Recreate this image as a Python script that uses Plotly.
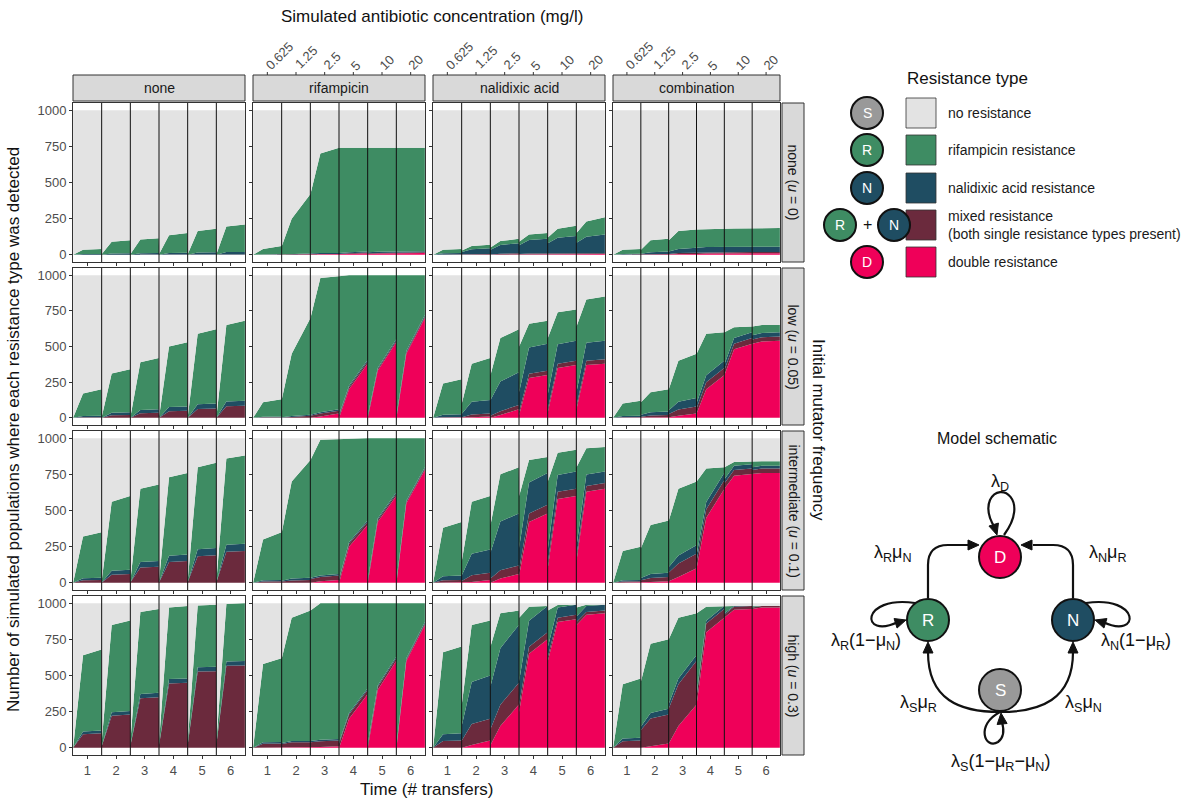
import plotly.graph_objects as go

W, H = 1200, 804

COLUMNS = ["none", "rifampicin", "nalidixic acid", "combination"]
ROWS = ["none (<i>u</i> = 0)", "low (<i>u</i> = 0.05)",
        "intermediate (<i>u</i> = 0.1)", "high (<i>u</i> = 0.3)"]
TRANSFERS = [1, 2, 3, 4, 5, 6]
CONC_LABELS = ["0.625", "1.25", "2.5", "5", "10", "20"]
Y_TICKS = [0, 250, 500, 750, 1000]

# total resistant populations (top of green) per transfer: (start, early, end)
TOTAL_NONE = [
    [(0, 35, 40), (5, 90, 100), (5, 105, 115), (5, 135, 150), (5, 165, 180), (5, 195, 210)],
    [(0, 170, 200), (10, 310, 340), (10, 390, 420), (10, 500, 530), (10, 590, 620), (10, 650, 680)],
    [(0, 320, 350), (20, 560, 600), (20, 650, 680), (20, 730, 760), (20, 800, 830), (20, 860, 880)],
    [(0, 640, 680), (50, 850, 880), (50, 940, 960), (50, 970, 980), (50, 985, 990), (50, 995, 1000)],
]
TOTAL_RIF = [
    [(0, 40, 60), (60, 250, 420), (420, 700, 740), (740, 740, 740), (740, 740, 740), (740, 740, 740)],
    [(0, 110, 130), (130, 450, 700), (700, 980, 990), (990, 1000, 1000), (1000, 1000, 1000), (1000, 1000, 1000)],
    [(0, 300, 350), (350, 700, 850), (850, 990, 995), (995, 1000, 1000), (1000, 1000, 1000), (1000, 1000, 1000)],
    [(0, 580, 620), (620, 900, 950), (950, 1000, 1000), (1000, 1000, 1000), (1000, 1000, 1000), (1000, 1000, 1000)],
]
TOTAL_NAL = [
    [(0, 35, 40), (30, 60, 70), (50, 95, 110), (90, 140, 150), (120, 180, 200), (150, 230, 260)],
    [(0, 240, 270), (100, 380, 420), (300, 560, 620), (500, 660, 680), (560, 740, 760), (640, 830, 850)],
    [(0, 380, 420), (150, 560, 600), (400, 750, 800), (600, 850, 870), (700, 900, 920), (800, 930, 940)],
    [(0, 660, 700), (300, 850, 880), (700, 930, 950), (900, 975, 980), (950, 988, 990), (970, 990, 990)],
]
TOTAL_COMB = [
    [(0, 35, 40), (35, 100, 110), (100, 165, 175), (175, 180, 180), (180, 182, 182), (182, 185, 185)],
    [(0, 100, 120), (110, 180, 200), (200, 400, 450), (450, 590, 600), (600, 635, 640), (640, 650, 650)],
    [(0, 220, 250), (240, 400, 430), (430, 650, 700), (700, 790, 800), (800, 835, 840), (840, 840, 840)],
    [(0, 440, 480), (460, 720, 750), (750, 900, 930), (930, 975, 980), (980, 980, 980), (980, 980, 980)],
]

# double resistance (bottom layer) per transfer: (start, early, end)
PINK_NONE = [
    [(0, 0, 0)] * 6, [(0, 0, 0)] * 6, [(0, 0, 0)] * 6, [(0, 0, 0)] * 6,
]
PINK_RIF = [
    [(0, 0, 0), (0, 0, 0), (0, 0, 0), (0, 5, 10), (5, 8, 10), (8, 10, 12)],
    [(0, 0, 0), (0, 0, 0), (0, 10, 30), (0, 200, 380), (0, 330, 530), (0, 450, 700)],
    [(0, 0, 0), (0, 0, 0), (0, 10, 20), (0, 250, 400), (0, 420, 600), (0, 550, 780)],
    [(0, 0, 0), (0, 0, 0), (0, 5, 10), (0, 200, 370), (0, 400, 600), (0, 600, 850)],
]
PINK_NAL = [
    [(0, 0, 0), (0, 0, 0), (0, 3, 5), (3, 5, 5), (5, 5, 5), (5, 5, 5)],
    [(0, 0, 0), (0, 5, 10), (0, 20, 60), (20, 280, 300), (40, 350, 370), (60, 370, 380)],
    [(0, 0, 0), (0, 5, 20), (0, 30, 60), (50, 420, 480), (100, 580, 600), (150, 630, 650)],
    [(0, 0, 0), (0, 20, 50), (20, 150, 300), (250, 650, 750), (600, 870, 890), (850, 920, 930)],
]
PINK_COMB = [
    [(0, 0, 0), (0, 0, 0), (0, 3, 5), (5, 8, 10), (10, 10, 10), (10, 10, 10)],
    [(0, 0, 0), (0, 3, 5), (5, 15, 30), (30, 200, 300), (300, 480, 520), (520, 535, 540)],
    [(0, 0, 0), (0, 5, 10), (10, 40, 100), (100, 450, 650), (650, 740, 750), (750, 760, 760)],
    [(0, 0, 0), (0, 10, 30), (30, 150, 300), (300, 800, 900), (900, 955, 960), (960, 970, 970)],
]

# mixed and nalidixic-acid layer thickness at the end of each transfer
MAROON_NONE = [[1, 2, 2, 2, 2, 2], [5, 20, 35, 50, 65, 85],
               [20, 60, 110, 150, 190, 220], [100, 230, 350, 450, 530, 570]]
MAROON_RIF = [[2, 3, 5, 5, 5, 5], [5, 10, 20, 15, 10, 10],
              [10, 20, 30, 20, 15, 10], [30, 40, 40, 30, 20, 10]]
MAROON_NAL = [[2, 5, 5, 5, 5, 5], [5, 20, 30, 30, 30, 30],
              [20, 50, 60, 60, 50, 40], [50, 150, 150, 50, 30, 20]]
MAROON_COMB = [[2, 5, 10, 10, 10, 10], [5, 15, 50, 50, 40, 30],
               [10, 30, 100, 60, 40, 30], [50, 200, 300, 60, 20, 10]]
TEAL_NONE = [[5, 8, 10, 12, 15, 18], [10, 20, 25, 30, 35, 35],
             [15, 30, 40, 45, 50, 50], [20, 25, 30, 30, 30, 30]]
TEAL_RIF = [[3, 5, 8, 8, 8, 8], [5, 10, 10, 10, 10, 10],
            [10, 15, 10, 10, 10, 10], [10, 10, 10, 10, 10, 10]]
TEAL_NAL = [[10, 40, 70, 100, 120, 130], [20, 100, 230, 190, 140, 130],
            [30, 160, 360, 220, 120, 80], [50, 300, 400, 180, 70, 40]]
TEAL_COMB = [[5, 15, 30, 35, 35, 35], [10, 25, 60, 50, 40, 30],
             [10, 30, 60, 50, 30, 20], [20, 40, 40, 20, 10, 5]]

TOTALS = [TOTAL_NONE, TOTAL_RIF, TOTAL_NAL, TOTAL_COMB]
PINKS = [PINK_NONE, PINK_RIF, PINK_NAL, PINK_COMB]
MAROONS = [MAROON_NONE, MAROON_RIF, MAROON_NAL, MAROON_COMB]
TEALS = [TEAL_NONE, TEAL_RIF, TEAL_NAL, TEAL_COMB]

C_GRAY = "#E3E3E3"
C_GREEN = "#3E8C63"
C_TEAL = "#1F4D62"
C_MAROON = "#6B2A3D"
C_PINK = "#EF0059"
C_S = "#999999"

FONT = "Liberation Sans, Arial, sans-serif"

COL_PX = [(73, 245), (253, 425), (433, 605), (613, 780)]
ROW_PX = [(103, 262), (268, 425), (431, 590), (596, 755)]


def px(x):
    return x / W


def py(y):
    return 1 - y / H


def text(txt, x, y, size=14, color="#1A1A1A", angle=0, xanchor="center", xref="paper",
         xshift=0, align="center"):
    annotations.append(dict(text=txt, xref=xref, yref="paper", x=x, y=py(y), xshift=xshift,
                            xanchor=xanchor, yanchor="middle", textangle=angle, align=align,
                            showarrow=False, font=dict(size=size, color=color, family=FONT)))


fig = go.Figure()
shapes = []
annotations = []
layout = {}

for r in range(4):
    for c in range(4):
        n = r * 4 + c + 1
        sfx = "" if n == 1 else str(n)
        xa, ya = f"x{sfx}", f"y{sfx}"
        tot_l = TOTALS[c][r]
        pk_l = PINKS[c][r]
        xs, ys = [], {"p": [], "m": [], "t": [], "g": [], "s": []}
        for k, t in enumerate(TRANSFERS):
            xpos = [t - 0.5 + 0.005, t - 0.15, t + 0.5 - 0.005]
            tend = tot_l[k][2]
            for j in range(3):
                tot = tot_l[k][j]
                pk = pk_l[k][j]
                ratio = min(1.0, tot / tend) if tend else 0
                m = min(pk + MAROONS[c][r][k] * ratio, tot)
                te = min(m + TEALS[c][r][k] * ratio, tot)
                xs.append(xpos[j])
                ys["p"].append(min(pk, tot))
                ys["m"].append(m)
                ys["t"].append(te)
                ys["g"].append(max(tot, te))
                ys["s"].append(1000)
        for key, col, fill in [("p", C_PINK, "tozeroy"), ("m", C_MAROON, "tonexty"),
                               ("t", C_TEAL, "tonexty"), ("g", C_GREEN, "tonexty"),
                               ("s", C_GRAY, "tonexty")]:
            fig.add_trace(go.Scatter(x=xs, y=ys[key], mode="lines", line=dict(width=0, color=col),
                                     fill=fill, fillcolor=col, hoverinfo="skip",
                                     showlegend=False, xaxis=xa, yaxis=ya))
        x0, x1 = COL_PX[c]
        y0, y1 = ROW_PX[r]
        ax_common = dict(showgrid=False, zeroline=False, showline=True, mirror=True,
                         linecolor="#333333", linewidth=1, ticks="outside", ticklen=3,
                         tickcolor="#333333", tickfont=dict(size=13, color="#4D4D4D", family=FONT))
        layout[f"xaxis{sfx}"] = dict(ax_common, domain=[px(x0), px(x1)], anchor=ya,
                                     range=[0.5, 6.5], tickvals=TRANSFERS,
                                     showticklabels=(r == 3))
        layout[f"yaxis{sfx}"] = dict(ax_common, domain=[py(y1), py(y0)], anchor=xa,
                                     range=[-50, 1050], tickvals=Y_TICKS,
                                     showticklabels=(c == 0))
        for b in TRANSFERS[:-1]:
            shapes.append(dict(type="line", xref=xa, yref=f"{ya} domain", x0=b + 0.5, x1=b + 0.5,
                               y0=0, y1=1, line=dict(color="#111111", width=1)))
        if r == 0:
            shapes.append(dict(type="rect", xref="paper", yref="paper", x0=px(x0), x1=px(x1),
                               y0=py(101), y1=py(75), fillcolor="#D9D9D9",
                               line=dict(color="#333333", width=1), layer="below"))
            text(COLUMNS[c], px((x0 + x1) / 2), 88)
            if c > 0:
                for t, lab in zip(TRANSFERS, CONC_LABELS):
                    L = len(lab) * 7.2
                    text(lab, t, 68 - L * 0.35, size=13, color="#4D4D4D", angle=-45,
                         xref=xa, xshift=L * 0.35)
                    shapes.append(dict(type="line", xref=xa, yref="paper", x0=t, x1=t,
                                       y0=py(75), y1=py(72), line=dict(color="#333333", width=1)))
        if c == 3:
            shapes.append(dict(type="rect", xref="paper", yref="paper", x0=px(782), x1=px(804),
                               y0=py(y1), y1=py(y0), fillcolor="#D9D9D9",
                               line=dict(color="#333333", width=1), layer="below"))
            text(ROWS[r], px(793), (y0 + y1) / 2, angle=90)

# axis titles
text("Simulated antibiotic concentration (mg/l)", px(432), 16, size=17, color="#111")
text("Time (# transfers)", px(427), 789, size=17, color="#111")
text("Number of simulated populations where each resistance type was detected",
     px(14), 430, size=17, color="#111", angle=-90)
text("Initial mutator frequency", px(818), 430, size=17, color="#111", angle=90)

# legend
LEG_LABELS = ["no resistance", "rifampicin resistance", "nalidixic acid resistance",
              "mixed resistance<br>(both single resistance types present)", "double resistance"]
LEG_COLORS = [C_GRAY, C_GREEN, C_TEAL, C_MAROON, C_PINK]
LEG_Y = [113, 150, 188, 225, 262]
text("Resistance type", px(905), 79, size=17, color="#111", xanchor="left")
for lab, col, yc in zip(LEG_LABELS, LEG_COLORS, LEG_Y):
    shapes.append(dict(type="rect", xref="paper", yref="paper", x0=px(906), x1=px(936),
                       y0=py(yc + 15), y1=py(yc - 15), fillcolor=col,
                       line=dict(color="#333333", width=0.8)))
    text(lab, px(946), yc, xanchor="left", align="left")


def node(cx, cy, rad, col, lab, size=15):
    shapes.append(dict(type="circle", xref="paper", yref="paper", x0=px(cx - rad), x1=px(cx + rad),
                       y0=py(cy + rad), y1=py(cy - rad), fillcolor=col,
                       line=dict(color="#111111", width=2)))
    text(lab, px(cx), cy, size=size, color="white")


node(867, 113, 16, C_S, "S", 14)
node(867, 150, 16, C_GREEN, "R", 14)
node(867, 188, 16, C_TEAL, "N", 14)
node(840, 225, 16, C_GREEN, "R", 14)
node(894, 225, 16, C_TEAL, "N", 14)
text("+", px(867), 225, size=16, color="#111")
node(867, 262, 16, C_PINK, "D", 14)

# model schematic
text("Model schematic", px(997), 438, size=16, color="#111")


def path(cmds):
    out = []
    for cmd in cmds:
        if isinstance(cmd, str):
            out.append(cmd)
        else:
            out.append(f"{px(cmd[0]):.5f},{py(cmd[1]):.5f}")
    shapes.append(dict(type="path", xref="paper", yref="paper", path=" ".join(out),
                       line=dict(color="#111111", width=2.2)))


def head(tip, direction):
    # arrowhead triangle with tip and direction (dx, dy) unit vector in pixels
    dx, dy = direction
    L, Wd = 11, 5
    bx, by = tip[0] - dx * L, tip[1] - dy * L
    p1 = (bx - dy * Wd, by + dx * Wd)
    p2 = (bx + dy * Wd, by - dx * Wd)
    shapes.append(dict(type="path", xref="paper", yref="paper",
                       path=f"M {px(tip[0]):.5f},{py(tip[1]):.5f} L {px(p1[0]):.5f},{py(p1[1]):.5f} "
                            f"L {px(p2[0]):.5f},{py(p2[1]):.5f} Z",
                       fillcolor="#111111", line=dict(color="#111111", width=1)))


D, R, N, S = (1000, 557), (928, 620), (1073, 620), (1000, 690)
# R -> D, N -> D
path(["M", (928, 598), "L", (928, 565), "Q", (928, 545), (948, 545), "L", (968, 545)])
head((979, 545), (1, 0))
path(["M", (1073, 598), "L", (1073, 565), "Q", (1073, 545), (1053, 545), "L", (1033, 545)])
head((1021, 545), (-1, 0))
# S -> R, S -> N
path(["M", (1000, 712), "C", (960, 712), (928, 700), (928, 652)])
head((928, 642), (0, -1))
path(["M", (1000, 712), "C", (1040, 712), (1073, 700), (1073, 652)])
head((1073, 642), (0, -1))
# self loops
path(["M", (1004, 535), "C", (1030, 500), (1000, 480), (990, 500), "Q", (985, 512), (995, 528)])
head((997, 535), (0.3, 0.95))
path(["M", (915, 603), "C", (860, 595), (860, 640), (898, 622)])
head((906, 620), (0.95, -0.3))
path(["M", (1086, 603), "C", (1141, 595), (1141, 640), (1103, 622)])
head((1095, 620), (-0.95, -0.3))
path(["M", (1000, 712), "C", (975, 725), (985, 750), (998, 742), "Q", (1006, 736), (1002, 722)])
head((1001, 713), (-0.1, -1))

node(*D, 21, C_PINK, "D", 17)
node(*R, 21, C_GREEN, "R", 17)
node(*N, 21, C_TEAL, "N", 17)
node(*S, 21, C_S, "S", 17)

LAMBDA_LABELS = [
    ("λ<sub>D</sub>", 1000, 482),
    ("λ<sub>R</sub>μ<sub>N</sub>", 893, 553),
    ("λ<sub>N</sub>μ<sub>R</sub>", 1108, 553),
    ("λ<sub>R</sub>(1−μ<sub>N</sub>)", 866, 641),
    ("λ<sub>N</sub>(1−μ<sub>R</sub>)", 1136, 641),
    ("λ<sub>S</sub>μ<sub>R</sub>", 918, 703),
    ("λ<sub>S</sub>μ<sub>N</sub>", 1083, 703),
    ("λ<sub>S</sub>(1−μ<sub>R</sub>−μ<sub>N</sub>)", 1000, 762),
]
for txt, x, y in LAMBDA_LABELS:
    text(txt, px(x), y, size=18, color="#111")

fig.update_layout(width=W, height=H, margin=dict(l=0, r=0, t=0, b=0),
                  plot_bgcolor="white", paper_bgcolor="white", showlegend=False,
                  shapes=shapes, annotations=annotations, **layout)

fig.write_html("out.html", config={"displayModeBar": False},
               post_script="document.body.style.margin='0';")
